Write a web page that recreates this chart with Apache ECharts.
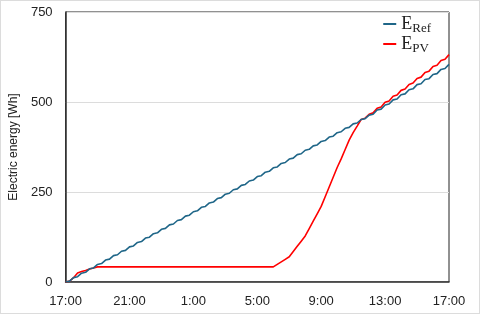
<!DOCTYPE html>
<html><head><meta charset="utf-8">
<script src="https://cdn.jsdelivr.net/npm/echarts@6/dist/echarts.min.js"></script>
<style>
html,body{margin:0;padding:0;background:#fff;}
#wrap{position:absolute;left:0;top:0;width:480px;height:314px;box-sizing:border-box;border:1px solid #dcdcdc;}
#c{position:absolute;left:0;top:0;width:480px;height:314px;}
</style></head>
<body><div id="c"></div><div id="wrap"></div>
<script>
// time categories: 15-minute steps from 17:00 to 17:00 next day
var xTickLabels = ['17:00','21:00','1:00','5:00','9:00','13:00','17:00'];
var yTicks = [0, 250, 500, 750];
var categories = [];
for (var i = 0; i <= 96; i++) {
  var m = 17 * 60 + i * 15;
  var h = Math.floor(m / 60) % 24, mm = m % 60;
  categories.push(h + ':' + (mm < 10 ? '0' : '') + mm);
}
var eRef = [0,2.5,12.2,14.7,24.4,26.9,36.6,39.1,48.8,51.3,61,63.5,73.2,75.7,85.4,87.9,
97.6,100.1,109.8,112.3,122,124.5,134.2,136.7,146.4,148.9,158.6,161.1,170.8,173.3,183,185.5,
195.2,197.7,207.4,209.9,219.6,222.1,231.8,234.3,244,246.5,256.2,258.7,268.4,270.9,280.6,283.1,
292.8,295.3,305,307.5,317.2,319.7,329.4,331.9,341.6,344.1,353.8,356.3,366,368.5,
378.2,380.7,390.4,392.9,402.6,405.1,414.8,417.3,427,429.5,439.2,441.7,451.4,453.9,463.6,466.1,
477.7,480.2,491.8,494.3,505.9,508.4,520,522.5,534.1,536.6,548.2,550.7,562.3,564.8,576.4,578.9,
590.5,593,604.6];
var ePV = [0,2.5,12,25,29,32,36,39,42,42,42,42,42,42,42,42,
42,42,42,42,42,42,42,42,42,42,42,42,42,42,42,42,
42,42,42,42,42,42,42,42,42,42,42,42,42,42,42,42,
42,42,42,42,42,49,56,63,70,84.5,99,113.5,128,148.5,169,189.5,
210,237,264,291,318,342,368,394,415,433,451.4,455.1,466.1,469.8,482.6,486.3,
499.2,502.9,515.7,519.4,532.3,536,548.8,552.6,565.4,569.1,581.9,585.7,598.5,602.2,615,618.8,
631.6];

var chart = echarts.init(document.getElementById('c'), null, {renderer:'canvas'});
var txt = '#222';
var rich = {
  e:{fontFamily:'Liberation Serif',fontSize:18,color:'#222'},
  s:{fontFamily:'Liberation Serif',fontSize:13,color:'#222',verticalAlign:'bottom',padding:[9,0,0,0]}
};
chart.setOption({
  animation:false,
  grid:{left:63,right:31,top:12,bottom:32,show:true,borderColor:'#222',borderWidth:1},
  legend:{
    right:44, top:10, orient:'vertical', itemGap:0, itemWidth:13, itemHeight:2,
    icon:'rect',
    formatter:function(n){return n==='ERef'?'{e|E}{s|Ref}':'{e|E}{s|PV}';},
    textStyle:{rich:rich},
    data:['ERef','EPV']
  },
  xAxis:{
    type:'category', data:categories, boundaryGap:false,
    axisLine:{lineStyle:{color:'#333',width:1.5}},
    axisTick:{show:false},
    axisLabel:{interval:15, margin:13, color:txt, fontFamily:'Liberation Sans', fontSize:13,
      formatter:function(v,idx){return xTickLabels[idx/16];}}
  },
  yAxis:{
    type:'value', min:yTicks[0], max:yTicks[yTicks.length-1], interval:250,
    name:'Electric energy [Wh]', nameLocation:'middle', nameGap:39,
    nameTextStyle:{color:txt,fontFamily:'Liberation Sans',fontSize:12},
    axisLine:{show:true,lineStyle:{color:'#333',width:1.5}},
    axisTick:{show:false},
    splitLine:{lineStyle:{color:'#dcdcdc',width:1}},
    axisLabel:{color:txt,fontFamily:'Liberation Sans',fontSize:13,margin:13}
  },
  series:[
    {name:'ERef',type:'line',data:eRef,showSymbol:false,lineStyle:{color:'#1f6688',width:1.6},itemStyle:{color:'#1f6688'},z:3},
    {name:'EPV',type:'line',data:ePV,showSymbol:false,lineStyle:{color:'#ff0000',width:1.6},itemStyle:{color:'#ff0000'},z:2}
  ]
});
</script></body></html>
